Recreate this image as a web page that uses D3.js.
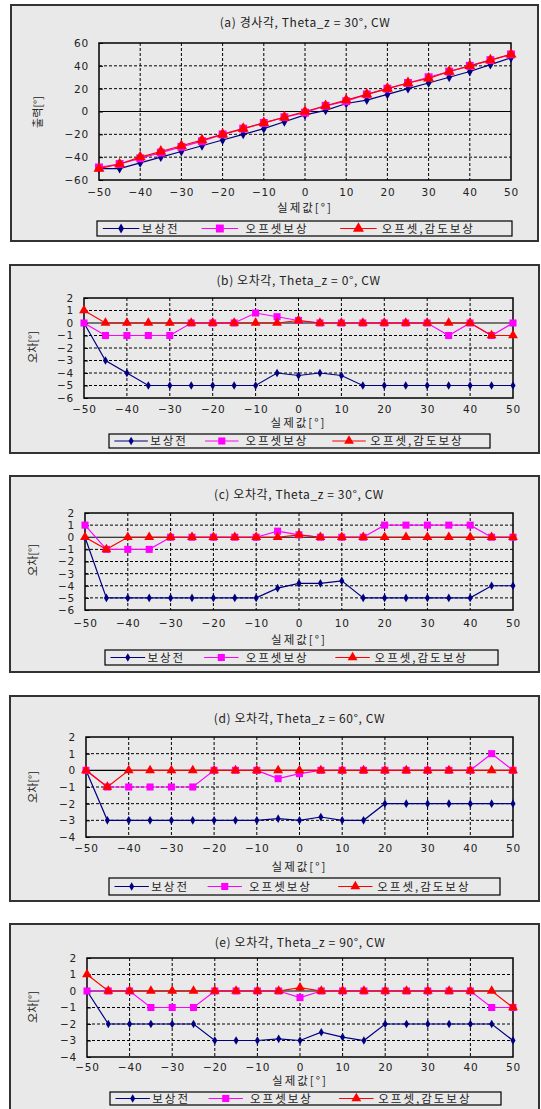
<!DOCTYPE html>
<meta charset="utf-8">
<style>
body { margin: 0; background: #fff; }
svg text { font-family: "Noto Sans CJK KR", "DejaVu Sans", sans-serif; fill: #222; }
.grid line { stroke: #000; stroke-width: 1; stroke-dasharray: 3,2; }
.tick text { font-family: "DejaVu Sans", sans-serif; font-size: 10.5px; letter-spacing: 0.8px; }
</style>
<svg width="541" height="1109"></svg>
<script src="https://d3js.org/d3.v7.min.js"></script>
<script>
// x positions shared by every panel
var xVals = [-50,-45,-40,-35,-30,-25,-20,-15,-10,-5,0,5,10,15,20,25,30,35,40,45,50];
var xTicks = [-50,-40,-30,-20,-10,0,10,20,30,40,50];

var seriesNames = ["보상전", "오프셋보상", "오프셋,감도보상"];
var seriesColors = ["#000080", "#ff00ff", "#ff0000"];

var titles = [
  "(a) 경사각, Theta_z = 30°, CW",
  "(b) 오차각, Theta_z = 0°, CW",
  "(c) 오차각, Theta_z = 30°, CW",
  "(d) 오차각, Theta_z = 60°, CW",
  "(e) 오차각, Theta_z = 90°, CW"
];
var yLabels = ["출력[°]", "오차[°]", "오차[°]", "오차[°]", "오차[°]"];
var xLabel = "실제값[°]";

// (a) inclination
var aBefore = [-50,-50,-45,-40,-35,-30,-25,-20,-15,-9,-3,1,7,10,15,20,25,30,35,41,47];
var aOffset = [-49,-46,-41,-36,-31,-26,-20,-15,-10,-5,-1,5,9,15,20,25,30,35,40,45,50];
var aGain   = [-50,-46,-40,-35,-30,-25,-20,-15,-10,-5,0,5,10,15,20,25,29,35,40,45,50];
// (b) error, theta_z = 0
var bBefore = [0,-3,-4,-5,-5,-5,-5,-5,-5,-4,-4.2,-4,-4.2,-5,-5,-5,-5,-5,-5,-5,-5];
var bOffset = [0,-1,-1,-1,-1,0,0,0,0.8,0.5,0.2,0,0,0,0,0,0,-1,0,-1,0];
var bGain   = [1,0,0,0,0,0,0,0,0,0,0.2,0,0,0,0,0,0,0,0,-1,-1];
// (c) error, theta_z = 30
var cBefore = [0,-5,-5,-5,-5,-5,-5,-5,-5,-4.2,-3.8,-3.8,-3.6,-5,-5,-5,-5,-5,-5,-4,-4];
var cOffset = [1,-1,-1,-1,0,0,0,0,0,0.5,0.2,0,0,0,1,1,1,1,1,0,0];
var cGain   = [0,-1,0,0,0,0,0,0,0,0,0.2,0,0,0,0,0,0,0,0,0,0];
// (d) error, theta_z = 60
var dBefore = [0,-3,-3,-3,-3,-3,-3,-3,-3,-2.9,-3,-2.8,-3,-3,-2,-2,-2,-2,-2,-2,-2];
var dOffset = [0,-1,-1,-1,-1,-1,0,0,0,-0.5,-0.2,0,0,0,0,0,0,0,0,1,0];
var dGain   = [0,-1,0,0,0,0,0,0,0,0,0,0,0,0,0,0,0,0,0,0,0];
// (e) error, theta_z = 90
var eBefore = [0,-2,-2,-2,-2,-2,-3,-3,-3,-2.9,-3,-2.5,-2.8,-3,-2,-2,-2,-2,-2,-2,-3];
var eOffset = [0,0,0,-1,-1,-1,0,0,0,0,-0.4,0,0,0,0,0,0,0,0,-1,-1];
var eGain   = [1,0,0,0,0,0,0,0,0,0,0.2,0,0,0,0,0,0,0,0,0,-1];

var panelData = [
  [aBefore, aOffset, aGain],
  [bBefore, bOffset, bGain],
  [cBefore, cOffset, cGain],
  [dBefore, dOffset, dGain],
  [eBefore, eOffset, eGain]
];
var yDomains = [[-60,60],[-6,2],[-6,2],[-4,2],[-4,2]];
var yTicks = [
  [-60,-40,-20,0,20,40,60],
  [-6,-5,-4,-3,-2,-1,0,1,2],
  [-6,-5,-4,-3,-2,-1,0,1,2],
  [-4,-3,-2,-1,0,1,2],
  [-4,-3,-2,-1,0,1,2]
];

// layout of each panel (pixels)
var layout = [
  {box:[11,5,538,241],  plot:[99,43,511,180],  title:23,  xt:192,  xl:208,  leg:[97,221,512,236],  ly:[38,112], ms:1.25},
  {box:[10,265,539,453],plot:[84,298,513,398], title:281, xt:409,  xl:423,  leg:[109,434,490,448], ly:[33,347], ms:1},
  {box:[10,476,539,672],plot:[85,513,513,610], title:495, xt:623,  xl:640,  leg:[105,650,498,665], ly:[33,560], ms:1},
  {box:[10,696,539,901],plot:[86,737,513,837], title:719, xt:848,  xl:867,  leg:[109,878,500,895], ly:[33,787], ms:1},
  {box:[10,924,539,1118],plot:[87,958,513,1057],title:943,xt:1067, xl:1081, leg:[110,1092,501,1105],ly:[33,1007], ms:1}
];

var svg = d3.select("svg");
var symbols = [d3.symbolDiamond, d3.symbolSquare, d3.symbolTriangle];
var symSize = [22, 50, 42];

function fmt(d) { return d < 0 ? "−" + Math.abs(d) : d; }

layout.forEach(function(L, i) {
  var g = svg.append("g");
  var p = L.plot;

  // panel frame
  g.append("rect")
    .attr("x", L.box[0]).attr("y", L.box[1])
    .attr("width", L.box[2] - L.box[0]).attr("height", L.box[3] - L.box[1])
    .attr("fill", "#e9e9e9").attr("stroke", "#333").attr("stroke-width", 2);

  var x = d3.scaleLinear().domain([-50, 50]).range([p[0], p[2]]);
  var y = d3.scaleLinear().domain(yDomains[i]).range([p[3], p[1]]);

  // grid
  var grid = g.append("g").attr("class", "grid");
  grid.selectAll(".gx").data(xTicks.slice(1, -1)).enter().append("line")
    .attr("x1", function(d) { return x(d); }).attr("x2", function(d) { return x(d); })
    .attr("y1", p[1]).attr("y2", p[3]);
  grid.selectAll(".gy").data(yTicks[i].slice(1, -1).filter(function(d) { return d !== 0; })).enter().append("line")
    .attr("y1", function(d) { return y(d); }).attr("y2", function(d) { return y(d); })
    .attr("x1", p[0]).attr("x2", p[2]);
  g.append("line")
    .attr("x1", p[0]).attr("x2", p[2]).attr("y1", y(0)).attr("y2", y(0))
    .attr("stroke", "#000").attr("stroke-width", 1.2);

  // axes
  var xAxis = g.append("g").attr("transform", "translate(0," + p[3] + ")")
    .call(d3.axisBottom(x).tickValues(xTicks).tickSize(0).tickPadding(6).tickFormat(fmt));
  xAxis.select(".domain").remove();
  xAxis.selectAll("text").attr("y", L.xt - p[3]).attr("dy", "0.35em");

  var yAxis = g.append("g").attr("transform", "translate(" + p[0] + ",0)")
    .call(d3.axisLeft(y).tickValues(yTicks[i]).tickSize(4).tickPadding(6).tickFormat(fmt));
  yAxis.select(".domain").remove();
  yAxis.selectAll(".tick line").attr("x2", 4).attr("stroke", "#000");

  g.append("rect")
    .attr("x", p[0]).attr("y", p[1])
    .attr("width", p[2] - p[0]).attr("height", p[3] - p[1])
    .attr("fill", "none").attr("stroke", "#000").attr("stroke-width", 1.5);

  // series
  panelData[i].forEach(function(vals, s) {
    var pts = xVals.map(function(xv, k) { return [xv, vals[k]]; });
    g.append("path").datum(pts)
      .attr("fill", "none").attr("stroke", seriesColors[s]).attr("stroke-width", 1.2)
      .attr("d", d3.line().x(function(d) { return x(d[0]); }).y(function(d) { return y(d[1]); }));
    g.selectAll(".m" + s).data(pts).enter().append("path")
      .attr("transform", function(d) { return "translate(" + x(d[0]) + "," + y(d[1]) + ")"; })
      .attr("d", d3.symbol().type(symbols[s]).size(symSize[s] * L.ms))
      .attr("fill", seriesColors[s]);
  });

  // titles
  g.append("text").attr("x", (p[0] + p[2]) / 2).attr("y", L.title).attr("dy", "0.35em")
    .attr("text-anchor", "middle").style("font-size", "12px").style("letter-spacing", "0.6px")
    .text(titles[i]);
  g.append("text").attr("x", (p[0] + p[2]) / 2).attr("y", L.xl).attr("dy", "0.35em")
    .attr("text-anchor", "middle").style("font-size", "11.5px").style("letter-spacing", "2px")
    .text(xLabel);
  g.append("text").attr("transform", "translate(" + L.ly[0] + "," + L.ly[1] + ") rotate(-90)")
    .attr("dy", "0.35em").attr("text-anchor", "middle").style("font-size", "11px")
    .text(yLabels[i]);

  // legend
  var lg = L.leg, lw = lg[2] - lg[0], lcy = (lg[1] + lg[3]) / 2;
  g.append("rect").attr("x", lg[0]).attr("y", lg[1]).attr("width", lw).attr("height", lg[3] - lg[1])
    .attr("fill", "#e9e9e9").attr("stroke", "#000").attr("stroke-width", 1.2);
  var lineStart = [0.014, 0.252, 0.586], textStart = [0.108, 0.358, 0.686];
  seriesNames.forEach(function(name, s) {
    var x0 = lg[0] + lw * lineStart[s], x1 = x0 + lw * 0.088;
    g.append("line").attr("x1", x0).attr("x2", x1).attr("y1", lcy).attr("y2", lcy)
      .attr("stroke", seriesColors[s]).attr("stroke-width", 1.2);
    g.append("path").attr("transform", "translate(" + ((x0 + x1) / 2) + "," + lcy + ")")
      .attr("d", d3.symbol().type(symbols[s]).size(symSize[s] * L.ms)).attr("fill", seriesColors[s]);
    g.append("text").attr("x", lg[0] + lw * textStart[s]).attr("y", lcy).attr("dy", "0.36em")
      .style("font-size", "11.5px").style("letter-spacing", "2px").text(name);
  });
});
</script>
